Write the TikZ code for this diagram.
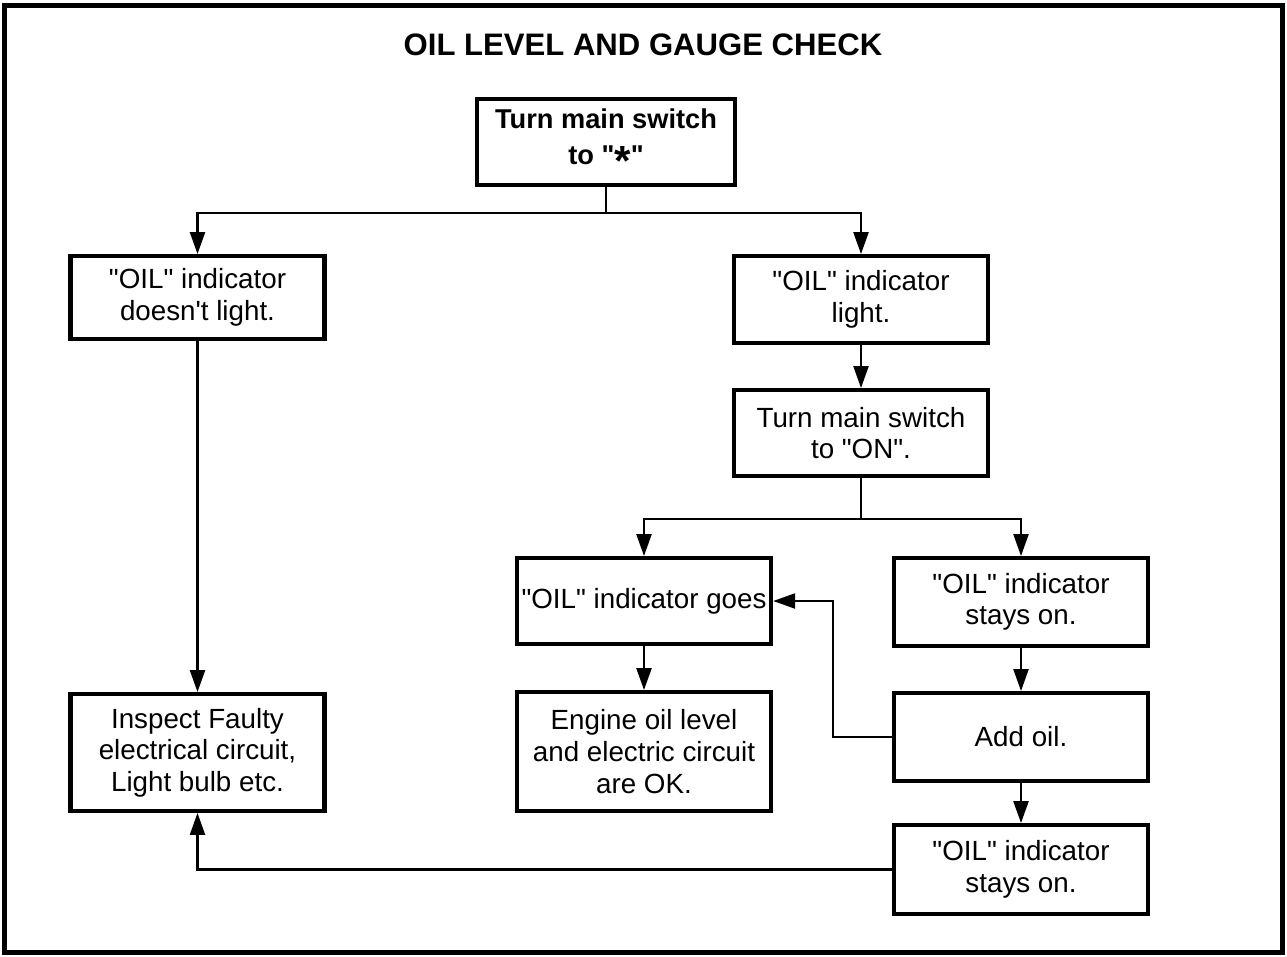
\documentclass[tikz,border=0pt]{standalone}
\usepackage{fontspec}
\setmainfont{Liberation Sans}
\usetikzlibrary{arrows.meta}
\newcommand\dq{\textquotedbl}

\tikzset{
  chkbox/.style={draw, line width=2.5pt, fill=white, minimum width=5.08cm, inner sep=2pt, align=center, font=\fontsize{15.8}{18}\selectfont},
  flowline/.style={line width=1.4pt},
  flow/.style={flowline, -{Triangle[length=12.5pt,width=8.5pt]}},
}

\begin{document}
\begin{tikzpicture}[x=0.02cm, y=-0.02cm]
  \useasboundingbox (0,0) rectangle (1287,956);
  % outer frame and title
  \draw[line width=2.4pt] (4.5,5.5) rectangle (1282.5,952.5);
  \node[font=\fontsize{17.7}{20}\selectfont\bfseries] (title) at (643,45) {OIL LEVEL AND GAUGE CHECK};
  % start
  \node[chkbox, minimum width=5.15cm, minimum height=1.71cm, font=\fontsize{15.5}{21}\selectfont\bfseries] (sw) at (606,142) {Turn main switch\\to \dq\raisebox{-0.75ex}{\fontsize{24}{24}\selectfont *}\dq};
  % left branch
  \node[chkbox, minimum height=1.65cm] (nolight) at (197.5,297.5) {\dq OIL\dq{} indicator\\doesn\textquotesingle t light.};
  \node[chkbox, minimum height=2.33cm] (inspect) at (197.5,752.5) {Inspect Faulty\\electrical circuit,\\Light bulb etc.};
  % right branch
  \node[chkbox, minimum height=1.73cm] (light) at (861,299.5) {\dq OIL\dq{} indicator\\light.};
  \node[chkbox, minimum height=1.71cm] (on) at (861,433) {Turn main switch\\to \dq ON\dq.};
  \node[chkbox, minimum height=1.71cm] (goes) at (644,601) {\dq OIL\dq{} indicator goes};
  \node[chkbox, minimum height=2.37cm] (ok) at (644,751.5) {Engine oil level\\and electric circuit\\are OK.};
  \node[chkbox, minimum height=1.75cm] (stays) at (1021,602) {\dq OIL\dq{} indicator\\stays on.};
  \node[chkbox, minimum height=1.75cm] (add) at (1021,737) {Add oil.};
  \node[chkbox, minimum height=1.77cm] (stays2) at (1021,869.5) {\dq OIL\dq{} indicator\\stays on.};
  % connectors
  \coordinate (split1) at (606,213);
  \coordinate (split2) at (861,519);
  \draw[flowline] (sw.south) -- (split1);
  \draw[flow] (split1) -| (nolight.north);
  \draw[flow] (split1) -| (light.north);
  \draw[flow] (nolight) -- (inspect);
  \draw[flow] (light) -- (on);
  \draw[flowline] (on.south) -- (split2);
  \draw[flow] (split2) -| (goes.north);
  \draw[flow] (split2) -| (stays.north);
  \draw[flow] (goes) -- (ok);
  \draw[flow] (stays) -- (add);
  \draw[flow] (add) -- (stays2);
  \draw[flow] (add.west) -- ++(-59,0) |- (goes.east);
  \draw[flow] (stays2.west) -| (inspect.south);
\end{tikzpicture}
\end{document}
